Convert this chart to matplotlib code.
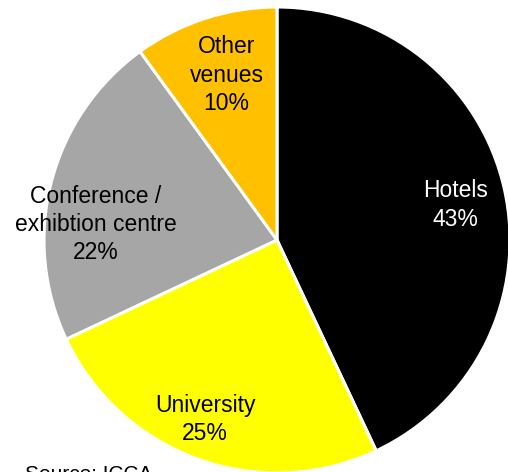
import matplotlib.pyplot as plt
import numpy as np

venues = ['Hotels', 'University', 'Conference /\nexhibtion centre', 'Other\nvenues']
shares = [43, 25, 22, 10]
colors = ['#000000', '#FFFF00', '#A6A6A6', '#FFC000']
text_colors = ['white', 'black', 'black', 'black']

plt.rcParams['font.family'] = ['Liberation Sans', 'DejaVu Sans']

fig = plt.figure(figsize=(5.08, 4.72), dpi=100)
ax = fig.add_axes([0, 0, 1, 1])

wedges, _ = ax.pie(shares, colors=colors, startangle=90, counterclock=False,
                   radius=1, wedgeprops=dict(edgecolor='white', linewidth=2.2))

# label placement: distance from centre and angle tweak per slice
label_dist = [0.78, 0.83, 0.78, 0.74]
angle_shift = [-1.5, -2, 9.5, -1]
for w, name, pct, tc, d, da in zip(wedges, venues, shares, text_colors, label_dist, angle_shift):
    mid = np.deg2rad((w.theta1 + w.theta2) / 2 + da)
    ax.text(d * np.cos(mid), d * np.sin(mid), f'{name}\n{pct}%', ha='center', va='center',
            color=tc, fontsize=16.5, linespacing=1.3)

ax.set_xlim(-277 / 233, 231 / 233)
ax.set_ylim(-232 / 233, 240 / 233)
ax.set_aspect('auto')
ax.axis('off')

fig.text(25 / 508, 1 - 465 / 472, 'Source: ICCA', ha='left', va='top', fontsize=15)

fig.savefig('out.png', dpi=100)
